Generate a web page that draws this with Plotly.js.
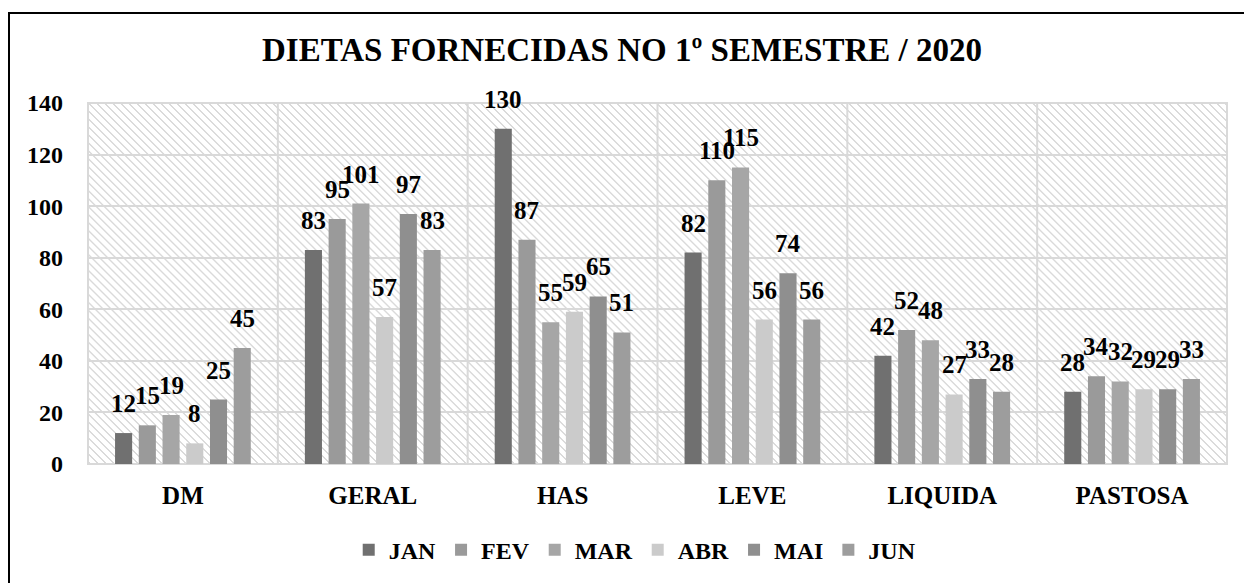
<!DOCTYPE html>
<html>
<head>
<meta charset="utf-8">
<script src="https://cdn.plot.ly/plotly-3.0.1.min.js"></script>
<style>
html,body{margin:0;padding:0;background:#fff;}
#wrap{position:relative;width:1244px;height:583px;}
#chart{width:1244px;height:583px;}
#frame{position:absolute;left:8px;top:12px;width:1236px;height:571px;border:2px solid #000;box-sizing:border-box;pointer-events:none;border-right:none;border-bottom:none;}
</style>
</head>
<body>
<div id="wrap"><div id="chart"></div><div id="frame"></div></div>
<script>
const categories = ["DM", "GERAL", "HAS", "LEVE", "LIQUIDA", "PASTOSA"];
const months = ["JAN", "FEV", "MAR", "ABR", "MAI", "JUN"];
const JAN = [12, 83, 130, 82, 42, 28];
const FEV = [15, 95, 87, 110, 52, 34];
const MAR = [19, 101, 55, 115, 48, 32];
const ABR = [8, 57, 59, 56, 27, 29];
const MAI = [25, 97, 65, 74, 33, 29];
const JUN = [45, 83, 51, 56, 28, 33];
const series = [JAN, FEV, MAR, ABR, MAI, JUN];
const colors = ["#707070", "#9a9a9a", "#a6a6a6", "#cbcbcb", "#8f8f8f", "#9d9d9d"];
const yTicks = [0, 20, 40, 60, 80, 100, 120, 140];

const FAM = "Liberation Serif";
const BARGAP = 0.25;
const GROUPGAP = 0.28;

const traces = series.map((vals, i) => ({
  type: "bar",
  name: months[i],
  x: categories,
  y: vals,
  marker: {color: colors[i]},
  hoverinfo: "none"
}));

// data labels placed through the axes (category index + group offset), raised above the bar
const slot = (1 - BARGAP) / series.length;
const annotations = [];
series.forEach((vals, i) => {
  vals.forEach((v, j) => {
    annotations.push({
      x: j + slot * (i - (series.length - 1) / 2), y: v, xref: "x", yref: "y",
      text: String(v), showarrow: false, xanchor: "center", yanchor: "bottom",
      yshift: 14, font: {family: FAM, size: 25, color: "#000", weight: 700}
    });
  });
});

const patSvg = '<svg xmlns="http://www.w3.org/2000/svg" width="1139" height="362">' +
  '<defs><pattern id="p" width="8" height="8" patternUnits="userSpaceOnUse">' +
  '<rect width="8" height="8" fill="#ffffff"/>' +
  '<rect x="0" y="0" width="2" height="1" fill="#dadada"/>' +
  '<rect x="1" y="1" width="2" height="1" fill="#dadada"/>' +
  '<rect x="2" y="2" width="2" height="1" fill="#dadada"/>' +
  '<rect x="3" y="3" width="2" height="1" fill="#dadada"/>' +
  '<rect x="4" y="4" width="2" height="1" fill="#dadada"/>' +
  '<rect x="5" y="5" width="2" height="1" fill="#dadada"/>' +
  '<rect x="6" y="6" width="2" height="1" fill="#dadada"/>' +
  '<rect x="7" y="7" width="1" height="1" fill="#dadada"/>' +
  '<rect x="0" y="7" width="1" height="1" fill="#dadada"/>' +
  '</pattern></defs><rect width="1139" height="362" fill="url(#p)"/></svg>';
const patUri = "data:image/svg+xml;charset=utf-8," + encodeURIComponent(patSvg);

const shapes = [];
for (let k = 1; k < categories.length; k++) {
  shapes.push({type: "line", xref: "x", yref: "paper", x0: k - 0.5, x1: k - 0.5, y0: 0, y1: 1,
    line: {color: "#d9d9d9", width: 2}, layer: "below"});
}
shapes.push({type: "rect", xref: "paper", yref: "paper", x0: 0, x1: 1, y0: 0, y1: 1,
  line: {color: "#d9d9d9", width: 2}, fillcolor: "rgba(0,0,0,0)", layer: "below"});

const layout = {
  width: 1244, height: 583,
  margin: {l: 88, r: 17, t: 103, b: 118},
  paper_bgcolor: "#fff",
  plot_bgcolor: "rgba(0,0,0,0)",
  title: {text: "DIETAS FORNECIDAS NO 1º SEMESTRE / 2020", x: 0.5, xanchor: "center",
    y: 1 - 49/583, yanchor: "middle", yref: "container",
    font: {family: FAM, size: 33, color: "#000", weight: 700}},
  barmode: "group",
  bargap: BARGAP,
  bargroupgap: GROUPGAP,
  showlegend: true,
  legend: {orientation: "h", x: 0.48, xanchor: "center", y: -0.235, yanchor: "middle",
    font: {family: FAM, size: 24, color: "#000", weight: 700}, itemwidth: 30,
    traceorder: "normal", itemclick: false},
  xaxis: {type: "category", showgrid: false, zeroline: false, showline: false,
    ticks: "", tickfont: {family: FAM, size: 25, color: "#000", weight: 700},
    ticklabelstandoff: 14, range: [-0.5, 5.5], fixedrange: true},
  yaxis: {range: [0, 140], tickvals: yTicks, ticktext: yTicks.map(String),
    showgrid: true, gridcolor: "#d9d9d9", gridwidth: 2, zeroline: false, showline: false,
    ticks: "", ticklen: 0, tickfont: {family: FAM, size: 24, color: "#000", weight: 700},
    ticklabelstandoff: 24, fixedrange: true},
  images: [{source: patUri, xref: "paper", yref: "paper", x: 0, y: 1, sizex: 1, sizey: 1,
    xanchor: "left", yanchor: "top", sizing: "stretch", layer: "below"}],
  shapes: shapes,
  annotations: annotations
};

Plotly.newPlot("chart", traces, layout, {displayModeBar: false, staticPlot: true});
</script>
</body>
</html>
